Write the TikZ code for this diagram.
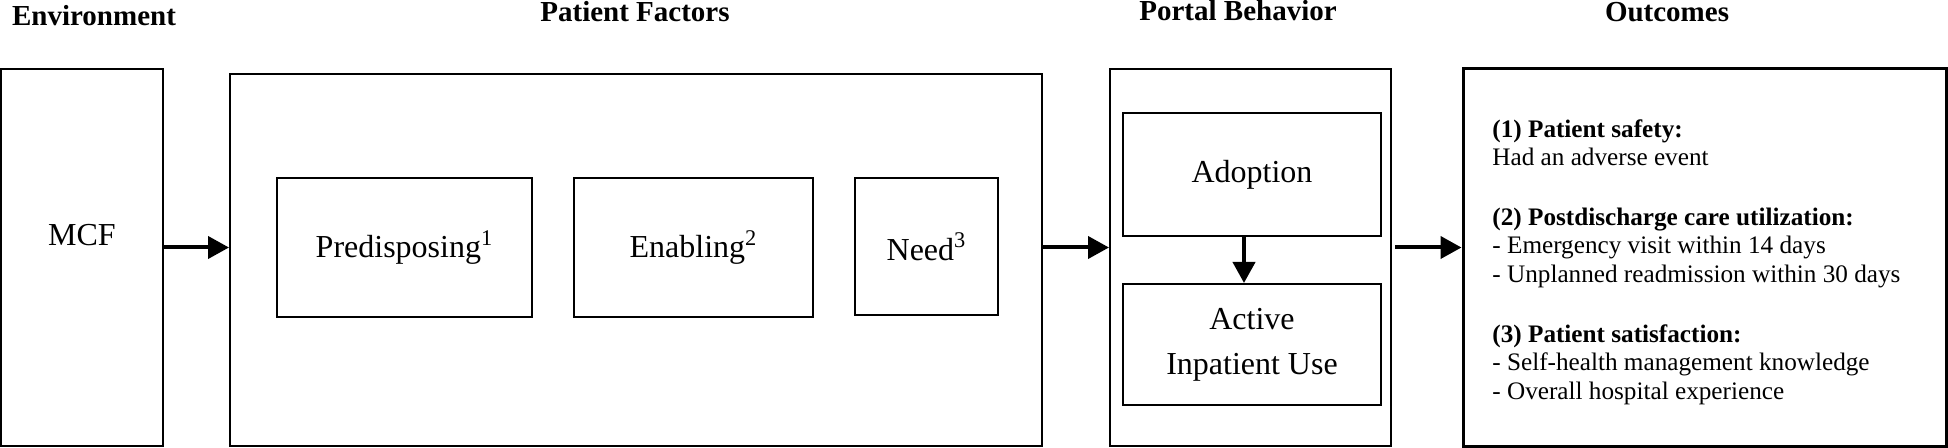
\documentclass[tikz,border=0pt]{standalone}
\usepackage{fontspec}
\setmainfont{Liberation Serif}
\usetikzlibrary{arrows.meta}

\begin{document}
\begin{tikzpicture}[x=0.5pt, y=-0.5pt,
    box/.style={draw, line width=1pt, inner sep=0pt, align=center,
      font=\fontsize{16}{22.5}\selectfont},
    coltitle/.style={anchor=base, font=\fontsize{14.5}{17}\selectfont\bfseries},
    arr/.style={line width=2pt, -{Triangle[length=10.5pt,width=11pt]}}]
  \useasboundingbox (0,0) rectangle (1948,448);
  % column titles
  \node[coltitle] (envtitle) at (94,26) {Environment};
  \node[coltitle] (pftitle) at (635,22) {Patient Factors};
  \node[coltitle] (pbtitle) at (1238,21) {Portal Behavior};
  \node[coltitle] (outtitle) at (1667,22) {Outcomes};
  % environment
  \node[box, minimum width=81pt, minimum height=188.5pt] (mcf) at (82,257.5) {};
  \node[font=\fontsize{16}{20}\selectfont] (mcflabel) at (82,235.5) {MCF};
  % patient factors
  \node[box, minimum width=406pt, minimum height=186pt] (pf) at (636,260) {};
  \node[box, minimum width=127.5pt, minimum height=69.5pt] (pred) at (404.5,247.5) {Predisposing\textsuperscript{1}};
  \node[box, minimum width=119.5pt, minimum height=69.5pt] (enab) at (693.5,247.5) {Enabling\textsuperscript{2}};
  \node[box, minimum width=71.5pt, minimum height=68.5pt] (need) at (926.5,246.5) {Need\textsuperscript{3}};
  % portal behavior
  \node[box, minimum width=140.5pt, minimum height=188.5pt] (portal) at (1250.5,257.5) {};
  \node[box, minimum width=129pt, minimum height=61.5pt] (adopt) at (1252,174.5) {Adoption};
  \node[box, minimum width=129pt, minimum height=60.5pt] (active) at (1252,344.5) {Active\\Inpatient Use};
  % outcomes
  \node[box, line width=1.5pt, minimum width=241.5pt, minimum height=188.5pt] (outc) at (1704.5,257.5) {};
  \node[anchor=north west, inner sep=0pt, align=left,
    font=\fontsize{12.6}{14.2}\selectfont] (outtext) at (1492,119) {%
    \textbf{(1) Patient safety:}\\
    Had an adverse event\\[15.8pt]
    \textbf{(2) Postdischarge care utilization:}\\
    - Emergency visit within 14 days\\
    - Unplanned readmission within 30 days\\[15.8pt]
    \textbf{(3) Patient satisfaction:}\\
    - Self-health management knowledge\\
    - Overall hospital experience};
  % arrows
  \draw[arr] (pred -| mcf.east) -- (pred -| pf.west);
  \draw[arr] (pred -| pf.east) -- (pred -| portal.west);
  \draw[arr] ([xshift=1.5pt]pred -| portal.east) -- (pred -| outc.west);
  \draw[arr] ([xshift=-4pt]adopt.south) -- ([xshift=-4pt]active.north);
\end{tikzpicture}
\end{document}
